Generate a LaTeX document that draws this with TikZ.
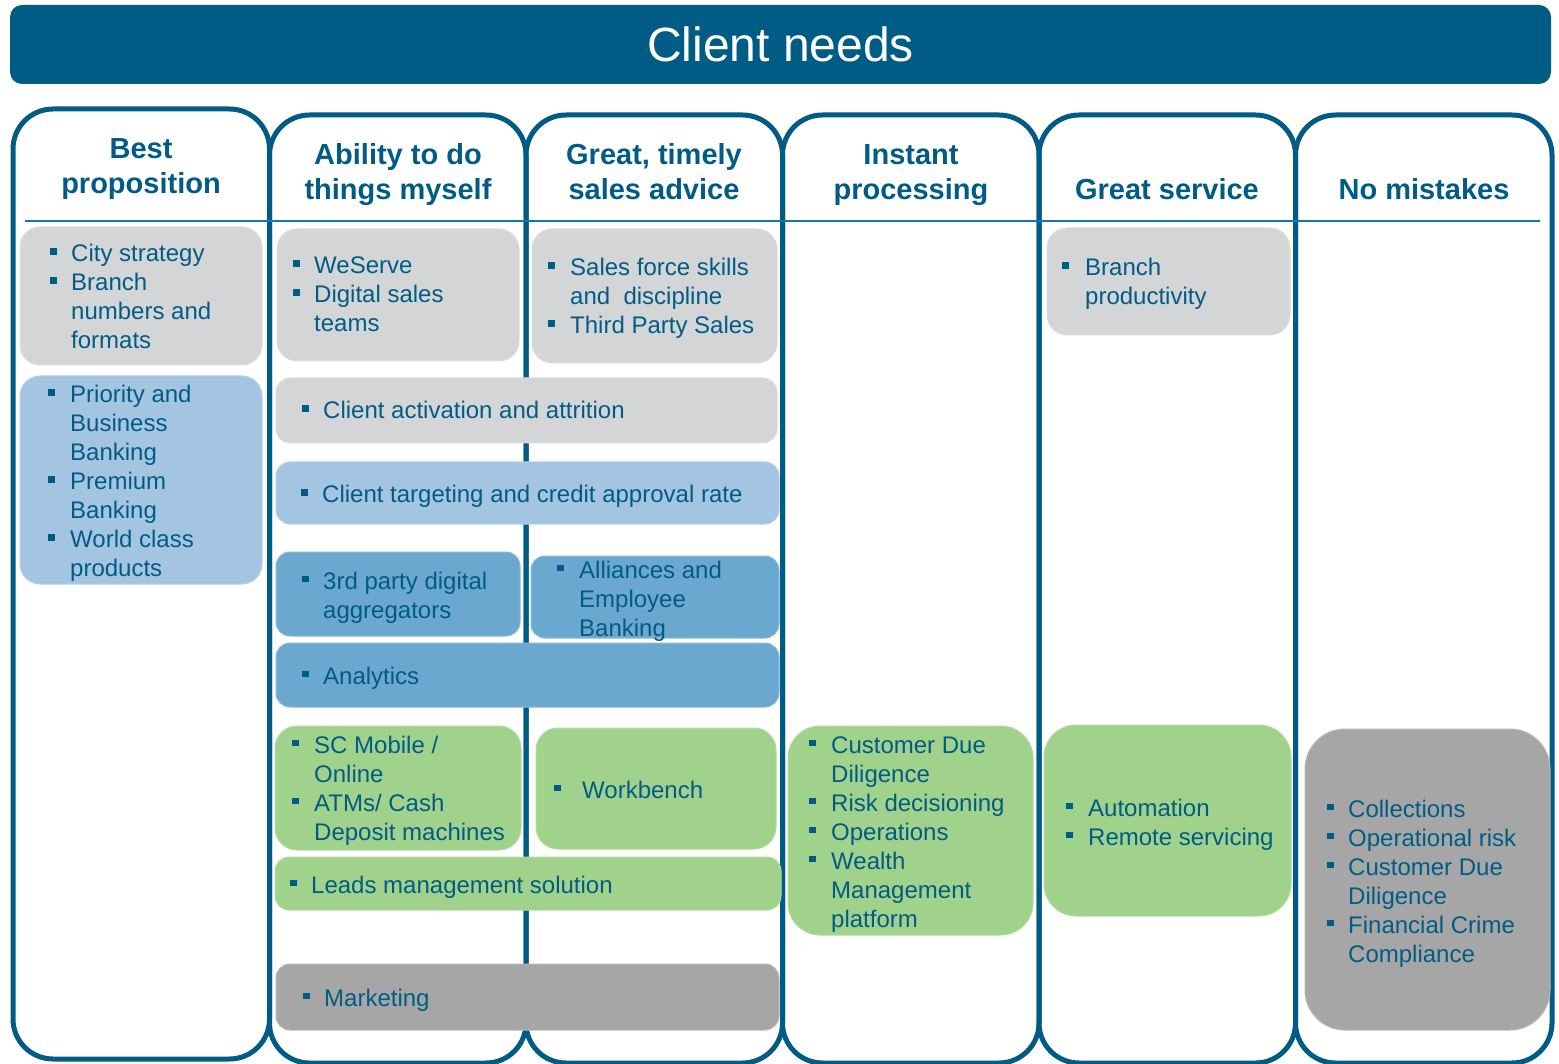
\documentclass[tikz,border=0pt]{standalone}
\usepackage{fontspec}
\setmainfont{Liberation Sans}
\definecolor{teal}{HTML}{015C85}
\definecolor{rule}{HTML}{1476B0}
\definecolor{lgrey}{HTML}{D4D5D7}
\definecolor{lblue}{HTML}{A3C5E1}
\definecolor{mblue}{HTML}{6BA8CF}
\definecolor{lgreen}{HTML}{A1D28B}
\definecolor{dgrey}{HTML}{A6A6A6}

% square bullet followed by a hanging-indented item; \nl breaks a line inside an item
\newcommand\sqbullet{\rule[7pt]{6.5pt}{6.5pt}}
\newcommand\nl{\hfil\break}
\newcommand\bitem[2]{\par\noindent\hangindent=#1\hangafter=1\hbox to #1{\sqbullet\hfil}#2}
\newcommand\blist[1]{\vtop{\hsize=600pt\parindent=0pt\rightskip=0pt plus 1fil\fontsize{24}{29}\selectfont #1\par}}

\tikzset{
  colframe/.style={draw=teal, line width=5pt, rounded corners=40pt},
  card/.style={rounded corners=#1, line width=1pt, inner sep=0pt},
  card/.default=14pt,
  items/.style={anchor=base west, inner sep=0pt, text=teal},
  head/.style={anchor=base, inner sep=0pt, text=teal, font=\fontsize{29}{35}\selectfont\bfseries, align=center},
}

\begin{document}
\begin{tikzpicture}[x=1pt,y=-1pt]
\useasboundingbox[fill=white] (0,0) rectangle (1559,1064);

% title bar
\node[fill=teal, rounded corners=12pt, minimum width=1541pt, minimum height=79pt, inner sep=0pt,
      text=white, font=\fontsize{48}{56}\selectfont] (title) at (780.5,44.5) {Client needs};

% six column frames
\draw[colframe] (13,109) rectangle (269.5,1059);
\draw[colframe] (269.5,115) rectangle (526,1063);
\draw[colframe] (526,115) rectangle (782.5,1063);
\draw[colframe] (782.5,115) rectangle (1039,1063);
\draw[colframe] (1039,115) rectangle (1295.5,1063);
\draw[colframe] (1295.5,115) rectangle (1552,1063);

% column headings (anchored at the baseline of the last line)
\node[head] (h1) at (141,194) {Best\\proposition};
\node[head] (h2) at (398,200) {Ability to do\\things myself};
\node[head] (h3) at (654,200) {Great, timely\\sales advice};
\node[head] (h4) at (911,200) {Instant\\processing};
\node[head] (h5) at (1167,200) {Great service};
\node[head] (h6) at (1424,200) {No mistakes};
\draw[rule, line width=2.5pt] (25,221) -- (1540,221);

% cards
\node[card=20pt, fill=lgrey, draw=lgrey!80!white, minimum width=242pt, minimum height=138pt] (c1a) at (141,296) {};
\node[card=20pt, fill=lblue, draw=lblue!80!white, minimum width=242pt, minimum height=208pt] (c1b) at (141,480) {};
\node[card=20pt, fill=lgrey, draw=lgrey!80!white, minimum width=242pt, minimum height=132pt] (c2a) at (398,295) {};
\node[card=20pt, fill=lgrey, draw=lgrey!80!white, minimum width=245pt, minimum height=134pt] (c3a) at (654.5,296) {};
\node[card, fill=lgrey, draw=lgrey!80!white, minimum width=501pt, minimum height=65pt] (act) at (526.5,410.5) {};
\node[card, fill=lblue, draw=lblue!80!white, minimum width=503pt, minimum height=62pt] (tgt) at (527.5,493) {};
\node[card, fill=mblue, draw=mblue!80!white, minimum width=244pt, minimum height=84pt] (agg) at (398,594) {};
\node[card, fill=mblue, draw=mblue!80!white, minimum width=248pt, minimum height=82pt] (all) at (655,597) {};
\node[card, fill=mblue, draw=mblue!80!white, minimum width=503pt, minimum height=64pt] (ana) at (527.5,675) {};
\node[card=22pt, fill=lgreen, draw=lgreen!80!white, minimum width=246pt, minimum height=124pt] (mob) at (398,788) {};
\node[card=22pt, fill=lgreen, draw=lgreen!80!white, minimum width=240pt, minimum height=121pt] (wb) at (656,788.5) {};
\node[card, fill=lgreen, draw=lgreen!80!white, minimum width=506pt, minimum height=53pt] (lead) at (528,883.5) {};
\node[card, fill=dgrey, draw=dgrey!80!white, minimum width=503pt, minimum height=66pt] (mkt) at (527.5,997) {};
\node[card=32pt, fill=lgreen, draw=lgreen!80!white, minimum width=245pt, minimum height=209pt] (c4) at (910.5,830.5) {};
\node[card=20pt, fill=lgrey, draw=lgrey!80!white, minimum width=243pt, minimum height=107pt] (c5a) at (1168.5,281.5) {};
\node[card=32pt, fill=lgreen, draw=lgreen!80!white, minimum width=247pt, minimum height=191pt] (c5b) at (1167.5,820.5) {};
\node[card=40pt, fill=dgrey, draw=dgrey!80!white, minimum width=245pt, minimum height=301pt] (c6) at (1427.5,879.5) {};

% card texts
\node[items] (t1a) at (50,262) {\blist{\bitem{21pt}{City strategy}\bitem{21pt}{Branch\nl numbers and\nl formats}}};
\node[items] (t1b) at (48,403) {\blist{\bitem{22pt}{Priority and\nl Business\nl Banking}\bitem{22pt}{Premium\nl Banking}\bitem{22pt}{World class\nl products}}};
\node[items] (t2a) at (293,274) {\blist{\bitem{21pt}{WeServe}\bitem{21pt}{Digital sales\nl teams}}};
\node[items] (t3a) at (548,276) {\blist{\bitem{22pt}{Sales force skills\nl and\ \ discipline}\bitem{22pt}{Third Party Sales}}};
\node[items] (tact) at (302,419) {\blist{\bitem{21pt}{Client activation and attrition}}};
\node[items] (ttgt) at (301,503) {\blist{\bitem{21pt}{Client targeting and credit approval rate}}};
\node[items] (tagg) at (302,589) {\blist{\bitem{21pt}{3rd party digital\nl aggregators}}};
\node[items] (tall) at (557,578) {\blist{\bitem{22pt}{Alliances and\nl Employee\nl Banking}}};
\node[items] (tana) at (302,684) {\blist{\bitem{21pt}{Analytics}}};
\node[items] (tmob) at (292,753) {\blist{\bitem{22pt}{SC Mobile /\nl Online}\bitem{22pt}{ATMs/ Cash\nl Deposit machines}}};
\node[items] (twb) at (554,798) {\blist{\bitem{28pt}{Workbench}}};
\node[items] (tlead) at (290,893) {\blist{\bitem{21pt}{Leads management solution}}};
\node[items] (tmkt) at (303,1006) {\blist{\bitem{21pt}{Marketing}}};
\node[items] (tc4) at (809,753) {\blist{\bitem{22pt}{Customer Due\nl Diligence}\bitem{22pt}{Risk decisioning}\bitem{22pt}{Operations}\bitem{22pt}{Wealth\nl Management\nl platform}}};
\node[items] (tc5a) at (1062,276) {\blist{\bitem{23pt}{Branch\nl productivity}}};
\node[items] (tc5b) at (1066,816) {\blist{\bitem{22pt}{Automation}\bitem{22pt}{Remote servicing}}};
\node[items] (tc6) at (1327,817) {\blist{\bitem{21pt}{Collections}\bitem{21pt}{Operational risk}\bitem{21pt}{Customer Due\nl Diligence}\bitem{21pt}{Financial Crime\nl Compliance}}};
\end{tikzpicture}
\end{document}
